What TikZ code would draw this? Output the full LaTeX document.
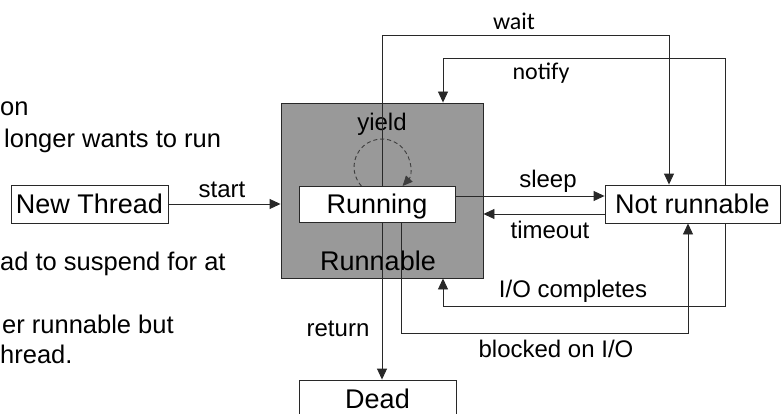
\documentclass[tikz,border=0pt]{standalone}
\usepackage{fontspec}
\setmainfont{Liberation Sans}
\newfontfamily\notefont{Carlito}
\usetikzlibrary{arrows.meta,calc}
\definecolor{runnablegray}{RGB}{153,153,153}
\definecolor{wire}{RGB}{40,40,40}

\begin{document}
\begin{tikzpicture}[x=1pt,y=-1pt,
  state/.style={draw=wire, line width=0.9pt, fill=white, inner sep=0pt,
    font=\fontsize{27}{30}\selectfont, text height=19.5pt, text depth=0pt},
  lbl/.style={font=\fontsize{24}{28}\selectfont, anchor=base, inner sep=0pt},
  nlbl/.style={font=\notefont\fontsize{24}{28}\selectfont, anchor=base, inner sep=0pt},
  side/.style={font=\fontsize{25.5}{30}\selectfont, anchor=base west, inner sep=0pt},
  conn/.style={draw=wire, line width=0.9pt},
  arr/.style={conn, -{Triangle[length=11pt,width=10pt]}},
]
\useasboundingbox (0,0) rectangle (783,414);
\clip (0,0) rectangle (783,414);

% text on the left
\node[side] (t1) at (0,116) {on};
\node[side] (t2) at (4,148) {longer wants to run};
\node[side] (t3) at (0,270) {ad to suspend for at};
\node[side] (t4) at (2,333) {er runnable but};
\node[side] (t5) at (0,363) {hread.};

% states
\node[state, minimum width=202pt, minimum height=175pt, fill=runnablegray] (runnable) at (382,190.5) {};
\node[font=\fontsize{27}{30}\selectfont, anchor=base, inner sep=0pt] (lrunnable) at (378,270) {Runnable};
\node[state, minimum width=156pt, minimum height=36pt] (running) at (377,204) {Running};
\node[state, minimum width=157pt, minimum height=38pt] (newthread) at (89.5,204) {New Thread};
\node[state, minimum width=175pt, minimum height=38pt] (notrun) at (692.5,204) {Not runnable};
\node[state, minimum width=157pt, minimum height=38pt] (dead) at (377.5,399) {Dead};

% transition labels
\node[lbl] (lstart) at (222,197) {start};
\node[lbl] (lsleep) at (548,187) {sleep};
\node[lbl] (ltimeout) at (550,238) {timeout};
\node[lbl] (lio) at (573,297) {I/O completes};
\node[lbl] (lblocked) at (556,357) {blocked on I/O};
\node[lbl] (lreturn) at (338,336) {return};
\node[lbl] (lyield) at (382,131) {yield};
\node[nlbl] (lwait) at (514,30) {wait};
\node[nlbl] (lnotify) at (541,80) {notify};

% routing levels
\coordinate (waitlvl) at (0,35);
\coordinate (notifylvl) at (0,58);
\coordinate (iolvl) at (0,306);
\coordinate (blklvl) at (0,333);

% transitions
\draw[arr] (newthread.east) -- (newthread.east -| runnable.west);
\draw[arr] ($(running.east)+(0,-8)$) coordinate (s0) -- (s0 -| notrun.west);
\draw[arr] ($(notrun.west)+(0,10)$) coordinate (t0) -- (t0 -| runnable.east);
\draw[arr] (runnable.center |- running.north) -- (runnable.center |- waitlvl)
  -| ($(notrun.north)+(-23.5,0)$);
\draw[arr] ($(notrun.north)+(32.5,0)$) coordinate (n0) -- (n0 |- notifylvl)
  -| ($(runnable.north)+(61,0)$);
\draw[arr] ($(notrun.south)+(32.5,0)$) coordinate (i0) -- (i0 |- iolvl)
  -| ($(runnable.south)+(61,0)$);
\draw[arr] ($(running.south)+(24,0)$) coordinate (b0) -- (b0 |- blklvl)
  -| ($(notrun.south)+(-4.5,0)$);
\draw[arr] (runnable.center |- running.south) -- (runnable.center |- dead.north);

% yield loop
\coordinate (yc) at (382,167);
\draw[draw=wire!90, line width=0.9pt, dash pattern=on 4pt off 3pt,
  -{Triangle[length=10pt,width=9pt]}]
  ($(yc)+(222.7:28pt)$) arc[start angle=222.7, end angle=-42.7, radius=28pt];
\end{tikzpicture}
\end{document}
